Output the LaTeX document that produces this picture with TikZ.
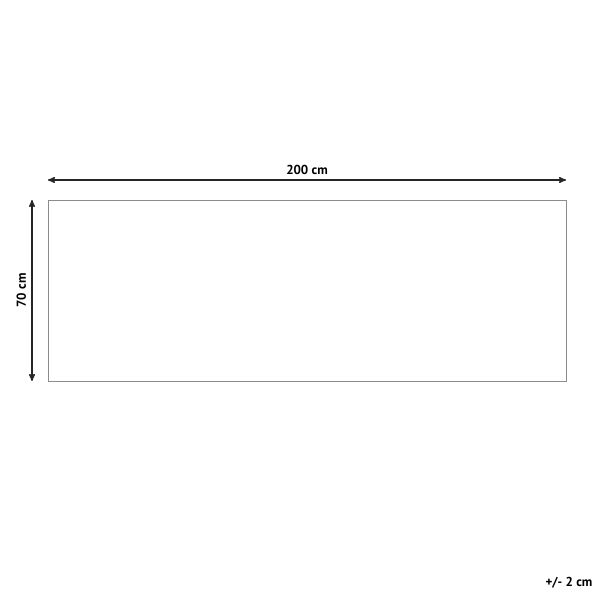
\documentclass[tikz,border=0pt]{standalone}
\usepackage{fontspec}
\setmainfont{PT Sans}
\usetikzlibrary{arrows,positioning}

\begin{document}
\begin{tikzpicture}[x=1pt,y=1pt,>=stealth',
                    font=\bfseries\fontsize{13}{15}\selectfont]
  \tikzstyle{rug}=[draw=black!45,line width=0.8pt,inner sep=0pt]
  \tikzstyle{dim}=[<->,line width=1.4pt,draw=black!85]

  \useasboundingbox (0,0) rectangle (600,600);

  \node[rug,minimum width=518pt,minimum height=181pt] (rug) at (307,309.5) {};

  \coordinate (hl) at (48,420);
  \coordinate (hr) at (566,420);
  \coordinate (vb) at (32,219);
  \coordinate (vt) at (32,400);

  \draw[dim] (hl) -- node[above=1pt] {200 cm} (hr);
  \draw[dim] (vb) -- node[sloped,above=2pt] {70 cm} (vt);

  \node (tol) at (569,17) {+/- 2 cm};
\end{tikzpicture}
\end{document}
